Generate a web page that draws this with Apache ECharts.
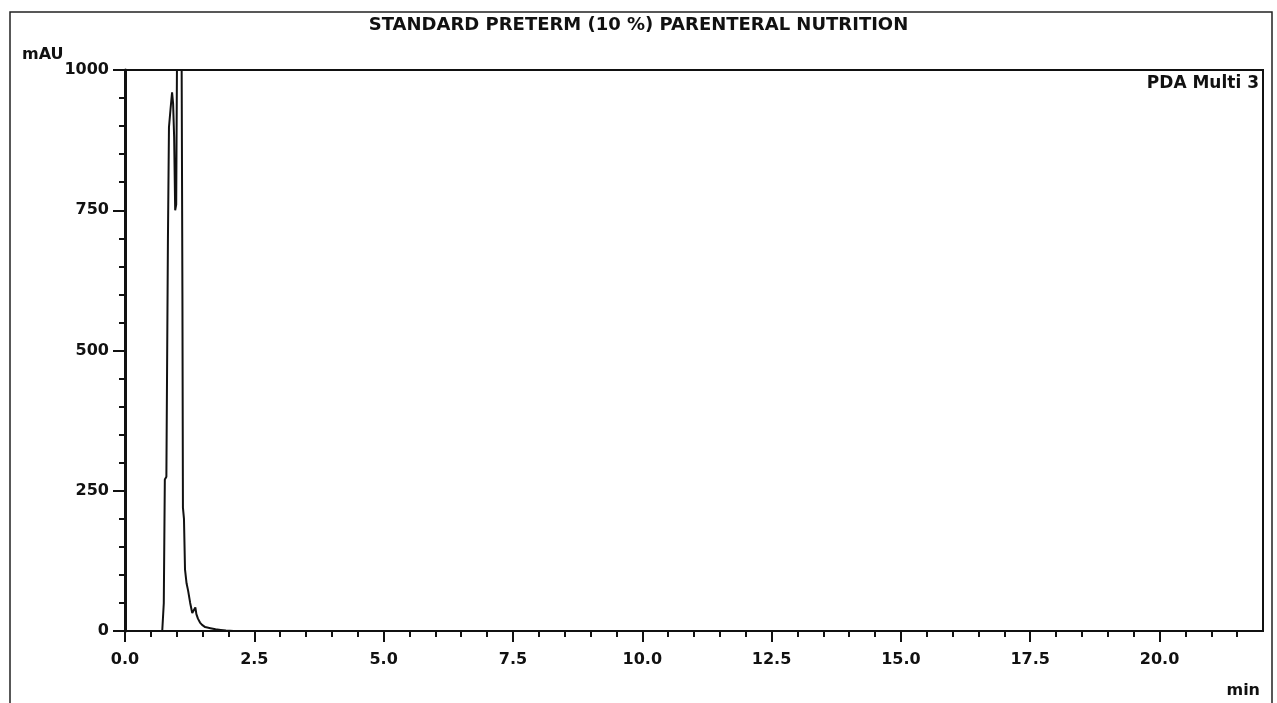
<!DOCTYPE html>
<html>
<head>
<meta charset="utf-8">
<script src="https://cdn.jsdelivr.net/npm/echarts@6/dist/echarts.min.js"></script>
<style>
html,body{margin:0;padding:0;background:#fff;}
#c{width:1277px;height:703px;}
</style>
</head>
<body>
<div id="c"></div>
<script>
// Retention time (min) and absorbance (mAU)
var times = [0, 0.5, 0.72, 0.74, 0.75, 0.76, 0.77, 0.80, 0.83, 0.85, 0.88, 0.91, 0.93, 0.95, 0.97, 0.99, 1.01, 1.03, 1.05, 1.07, 1.09, 1.11, 1.12, 1.14, 1.16, 1.19, 1.22, 1.26, 1.30, 1.33, 1.36, 1.38, 1.41, 1.45, 1.49, 1.55, 1.65, 1.75, 1.85, 1.95, 2.1, 3, 5, 10, 15, 20, 22];
var mAU   = [0, 0, 0, 0, 50, 52, 270, 275, 700, 898, 930, 960, 940, 880, 750, 760, 1100, 1400, 1450, 1350, 1150, 600, 220, 200, 110, 85, 72, 50, 32, 30, 42, 30, 22, 15, 11, 7, 5, 3, 2, 1, 0, 0, 0, 0, 0, 0, 0];
var xMajorTicks = [0, 2.5, 5, 7.5, 10, 12.5, 15, 17.5, 20];
var xMinorTicks = [0.5,1,1.5,2,3,3.5,4,4.5,5.5,6,6.5,7,8,8.5,9,9.5,10.5,11,11.5,12,13,13.5,14,14.5,15.5,16,16.5,17,18,18.5,19,19.5,20.5,21,21.5];
var yTicks = [0, 250, 500, 750, 1000];
var titleText = 'STANDARD PRETERM (10 %) PARENTERAL NUTRITION';
var legendText = 'PDA Multi 3';

var FONT = 'DejaVu Sans';
var INK = '#111';
var chart = echarts.init(document.getElementById('c'), null, {renderer: 'canvas'});
var pts = times.map(function (t, i) { return [t, mAU[i]]; });

chart.setOption({
  animation: false,
  backgroundColor: '#fff',
  title: {
    text: titleText, left: 'center', top: 11,
    textStyle: {fontFamily: FONT, fontWeight: 'bold', fontSize: 18, color: INK}
  },
  grid: {left: 125, top: 70, right: 14, bottom: 72, show: true, borderColor: INK, borderWidth: 2, backgroundColor: 'transparent'},
  xAxis: [{
    type: 'value', min: 0, max: 22,
    axisLine: {show: true, lineStyle: {color: INK, width: 2}},
    axisTick: {show: true, length: 11, lineStyle: {color: INK, width: 2}, customValues: xMajorTicks},
    axisLabel: {customValues: xMajorTicks, margin: 21, fontFamily: FONT, fontWeight: 'bold', fontSize: 16, color: INK,
      formatter: function (v) { return v.toFixed(1); }},
    splitLine: {show: false}
  }, {
    type: 'value', min: 0, max: 22, position: 'bottom',
    axisLine: {show: false},
    axisTick: {show: true, length: 6, lineStyle: {color: INK, width: 2}, customValues: xMinorTicks},
    axisLabel: {show: false},
    splitLine: {show: false}
  }],
  yAxis: {
    type: 'value', min: 0, max: 1000, interval: 250,
    axisLine: {show: true, lineStyle: {color: INK, width: 3}},
    axisTick: {show: true, length: 12, lineStyle: {color: INK, width: 2}, customValues: yTicks},
    minorTick: {show: true, splitNumber: 5, length: 6, lineStyle: {color: INK, width: 2}},
    axisLabel: {customValues: yTicks, margin: 16, fontFamily: FONT, fontWeight: 'bold', fontSize: 16, color: INK,
      formatter: function (v) { return String(v); }},
    splitLine: {show: false}
  },
  series: [{
    type: 'line', data: pts, showSymbol: false, symbol: 'none', clip: true,
    lineStyle: {color: INK, width: 2}
  }],
  graphic: [
    {type: 'rect', shape: {x: 10, y: 12, width: 1262, height: 700}, style: {fill: 'none', stroke: '#222', lineWidth: 1.5}, silent: true},
    {type: 'text', left: 22, top: 47, style: {text: 'mAU', fontFamily: FONT, fontWeight: 'bold', fontSize: 16, fill: INK}},
    {type: 'text', right: 18, top: 75, style: {text: legendText, fontFamily: FONT, fontWeight: 'bold', fontSize: 17, fill: INK}},
    {type: 'text', right: 17, top: 683, style: {text: 'min', fontFamily: FONT, fontWeight: 'bold', fontSize: 16, fill: INK}}
  ]
});
</script>
</body>
</html>
